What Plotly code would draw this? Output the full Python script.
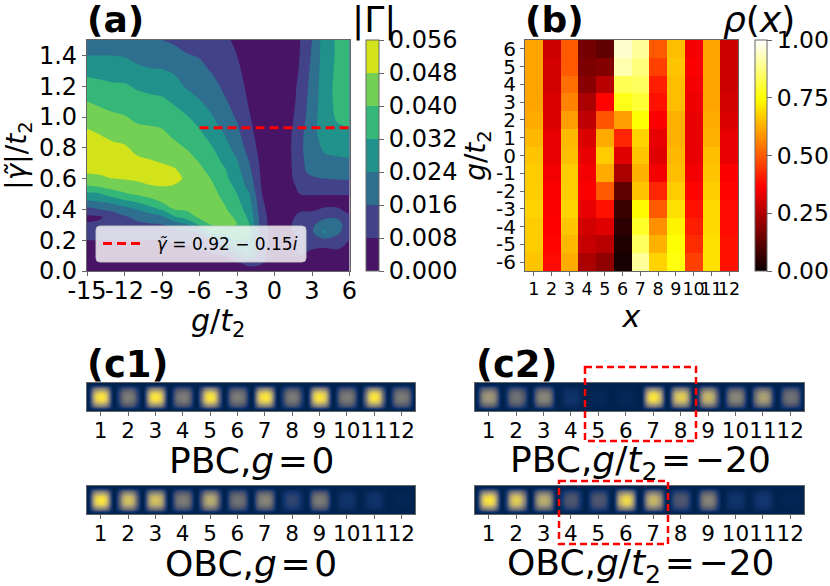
import numpy as np
import plotly.graph_objects as go

W, H = 830, 586
FONT = "DejaVu Sans"
FRAME = "#666666"

# ---------- panel (a): |Gamma| map, values in units of 1e-3 ----------
g_values = list(range(-15, 7))
gamma_values = [0, .05, .1, .15, .2, .25, .3, .35, .4, .45, .5, .55, .6, .65, .7, .8, .9, 1.0, 1.1, 1.2, 1.3, 1.4, 1.5]
col_m15 = [3, 3, 4, 5, 8, 10, 9, 6, 13, 23, 30, 39, 46, 49, 51, 52, 49, 44.5, 40, 35, 30, 24, 20]
col_m14 = [3, 3, 4, 5, 8, 10, 10, 7, 16, 24, 31, 41, 47, 49, 51, 51, 47.5, 43, 38.5, 34, 29.5, 24, 20]
col_m13 = [3, 3, 4, 6, 8, 11, 12, 11, 18, 26, 36, 43, 48, 50, 51, 49.5, 46, 41.5, 37, 33, 29, 24, 20]
col_m12 = [3, 3, 4, 6, 8, 11, 13, 15, 21, 30, 39, 44, 48.5, 50, 51, 49, 44.5, 40.5, 36, 33, 28, 23.5, 19]
col_m11 = [3, 3, 4, 6, 8, 12, 14, 18, 24, 33, 41, 45, 49.5, 50.5, 50, 46, 42, 38.5, 35, 31, 26, 21.5, 18]
col_m10 = [3, 3, 4, 6, 8, 12, 15, 20, 28, 37, 43, 47.5, 50, 50.5, 49, 45, 41.5, 38, 34, 30, 25, 20, 17]
col_m9 = [3, 3, 4, 6, 8, 12, 15.5, 22, 33, 40.5, 44, 48, 50, 50, 48, 44, 41, 37, 33.5, 29, 24.5, 20, 16]
col_m8 = [3, 4, 5, 7, 9, 13, 19, 31, 40, 42, 44, 47.5, 49.5, 49, 46.5, 42, 38, 35, 31, 27, 23, 18, 15]
col_m7 = [3, 4, 5, 7, 10, 14, 23, 36, 41, 43, 44, 45, 47, 45, 43.5, 39.5, 36, 32.5, 28, 23, 19.5, 16.5, 13]
col_m6 = [3, 4, 5.5, 8.5, 12.5, 17, 33, 41.5, 43, 44, 44, 44, 43.5, 42, 40, 36, 33, 29, 24.5, 21, 18, 15.5, 13]
col_m5 = [4, 5, 7, 11, 16, 33, 40.5, 42, 43, 43, 42, 41, 39.5, 37.5, 35.5, 32.5, 28, 24.5, 21.5, 18.5, 15.5, 13.5, 12]
col_m4 = [4, 6, 8, 16, 24, 34, 41, 42, 41, 39.5, 38, 36, 34, 33, 31, 27, 23.5, 20, 17, 14.5, 12, 10, 9]
col_m3 = [4, 7, 16, 24, 32, 37, 40, 39, 36, 34, 32, 30, 28, 26.5, 25, 21, 18, 15, 13, 11, 9.5, 8, 7]
col_m2 = [5, 10, 24, 28, 31, 33, 32, 30, 28, 26, 24, 21, 19.5, 17.5, 16, 12.5, 10, 8.5, 7, 6, 5, 4.5, 4]
col_m1 = [4, 8.5, 10, 11, 12, 12, 11.5, 11, 10, 9, 8, 7, 6.5, 6, 5.5, 4.5, 4, 3.5, 3, 3, 2.5, 2.5, 2]
col_p0 = [2, 3, 3.5, 4, 4, 4, 3.5, 3.5, 3, 2.5, 2, 2, 2, 2, 2.5, 2.5, 2.5, 2, 2, 1.5, 1.5, 1, 1]
col_p1 = [3, 8, 7, 6.5, 6, 6, 5.5, 5, 4, 3, 3, 3.5, 4, 4, 4.5, 5, 5, 4.5, 4, 3.5, 3, 2.5, 2]
col_p2 = [3, 7, 8, 8.5, 8.5, 10, 12, 10, 7, 5, 8, 10, 13, 14, 14, 14, 13, 11, 10, 9.5, 8.5, 8, 7.5]
col_p3 = [3, 4, 6, 8.5, 12, 15, 14, 11, 7, 5, 8.5, 12, 15, 18, 19, 21, 22, 21, 20, 19, 18, 17, 16]
col_p4 = [3, 4, 6, 8, 14, 25, 22, 14, 9, 5, 8.5, 12, 16, 20, 22, 25, 27, 28, 28, 28.5, 28, 28, 28]
col_p5 = [3, 4, 6, 8.5, 12, 18, 20, 15, 9, 5, 8.5, 12, 16.5, 20, 22, 26.5, 30, 33, 34, 34, 33.5, 33, 33]
col_p6 = [3, 4, 5, 7, 8, 10, 11, 9, 6, 5.5, 8.5, 12.5, 17, 20, 22.5, 27, 31, 34, 36, 37, 37, 37, 36]
gamma_columns = [col_m15, col_m14, col_m13, col_m12, col_m11, col_m10, col_m9, col_m8, col_m7, col_m6, col_m5,
                 col_m4, col_m3, col_m2, col_m1, col_p0, col_p1, col_p2, col_p3, col_p4, col_p5, col_p6]
gamma_bar_ticks = [0.0, 0.008, 0.016, 0.024, 0.032, 0.04, 0.048, 0.056]
a_x_ticks = [-15, -12, -9, -6, -3, 0, 3, 6]
a_y_ticks = [0.0, 0.2, 0.4, 0.6, 0.8, 1.0, 1.2, 1.4]
band_colors = ["#471466", "#414287", "#2e6e8e", "#21918c", "#35b779", "#74d055", "#d2e21b"]
line_g = [-6, 6]
line_gamma = [0.93, 0.93]

# ---------- panel (b): rho(x), rows run g = 6 ... -6 ----------
sites = list(range(1, 13))
b_g = [6, 5, 4, 3, 2, 1, 0, -1, -2, -3, -4, -5, -6]
rho_1 = [.61, .61, .61, .61, .62, .64, .66, .67, .67, .68, .67, .67, .66]
rho_2 = [.29, .30, .30, .31, .31, .33, .33, .35, .36, .36, .365, .37, .38]
rho_3 = [.50, .50, .53, .56, .60, .64, .65, .67, .67, .68, .66, .64, .62]
rho_4 = [.16, .17, .19, .24, .27, .31, .33, .35, .36, .33, .30, .28, .24]
rho_5 = [.13, .18, .26, .37, .49, .62, .67, .62, .50, .39, .32, .26, .20]
rho_6 = [.95, .92, .83, .77, .60, .42, .32, .24, .13, .07, .05, .03, .02]
rho_7 = [.90, .87, .84, .80, .75, .68, .66, .63, .66, .74, .79, .84, .90]
rho_8 = [.50, .46, .41, .39, .36, .33, .32, .35, .42, .50, .58, .63, .68]
rho_9 = [.65, .66, .65, .65, .63, .63, .64, .65, .67, .70, .73, .75, .76]
rho_10 = [.35, .36, .35, .34, .33, .33, .33, .35, .37, .39, .41, .43, .46]
rho_11 = [.61, .61, .61, .61, .62, .63, .65, .66, .67, .69, .69, .70, .70]
rho_12 = [.29, .29, .29, .30, .31, .33, .33, .36, .37, .38, .38, .39, .39]
rho_columns = [rho_1, rho_2, rho_3, rho_4, rho_5, rho_6, rho_7, rho_8, rho_9, rho_10, rho_11, rho_12]
rho_bar_ticks = [0, 0.25, 0.5, 0.75, 1.0]

# ---------- panels (c1), (c2): site densities ----------
c1_pbc = [1.0, .5, 1.0, .5, 1.0, .5, 1.0, .5, 1.0, .5, 1.0, .5]
c1_obc = [1.0, .85, .85, .5, .75, .45, .55, .2, .5, .1, .1, .02]
c2_pbc = [.65, .45, .55, .1, .03, .03, 1.0, .9, .8, .55, .7, .45]
c2_obc = [1.0, .9, .75, .3, .3, .95, .8, .3, .55, .1, .12, .02]
# lateral fall-off of one site's blob across its cell, edge to edge
blob_profile = [0, .2, .52, .78, .92, .98, 1.0, .98, .92, .78, .52, .2, 0]


def px_x(v):
    return v / W


def px_y(v):
    return 1 - v / H


def frame(**kw):
    base = dict(showgrid=False, zeroline=False, showline=True, mirror=True, linecolor=FRAME, linewidth=1.2,
                ticks="outside", ticklen=4, tickwidth=1.2, tickcolor=FRAME, tickangle=0,
                tickfont=dict(family=FONT, size=24, color="black"))
    base.update(kw)
    return base


def ttl(text, size, standoff):
    return dict(text=text, font=dict(family=FONT, size=size, color="black"), standoff=standoff)


stepped = []
for i, c in enumerate(band_colors):
    stepped += [[i / 7, c], [(i + 1) / 7, c]]

fig = go.Figure()

z_a = np.array(gamma_columns).T / 1000.0
fig.add_trace(go.Contour(
    x=g_values, y=gamma_values, z=z_a, xaxis="x", yaxis="y",
    colorscale=stepped, zmin=0, zmax=0.056, autocontour=False,
    contours=dict(start=0, end=0.056, size=0.008, coloring="fill", showlines=False),
    line=dict(width=0), hoverinfo="skip",
    colorbar=dict(x=px_x(366), xanchor="left", xpad=0, ypad=0, thickness=12.5, thicknessmode="pixels",
                  len=231 / H, lenmode="fraction", y=px_y(40), yanchor="top",
                  tickvals=gamma_bar_ticks, ticktext=[f"{v:.3f}" for v in gamma_bar_ticks],
                  ticks="outside", ticklen=5, tickcolor=FRAME, outlinecolor=FRAME, outlinewidth=1,
                  tickfont=dict(family=FONT, size=24, color="black")),
))
fig.add_trace(go.Scatter(
    x=line_g, y=line_gamma, xaxis="x", yaxis="y", mode="lines",
    line=dict(color="#ff0000", width=3, dash="9px,5px"),
    name="\u00a0\u00a0<i>\u03b3\u0303</i> = 0.92 \u2212 0.15<i>i</i>", showlegend=True,
))

fig.add_trace(go.Heatmap(
    x=sites, y=b_g, z=np.array(rho_columns).T, xaxis="x2", yaxis="y2",
    colorscale=[[0, "#0a0000"], [.365, "#ff0000"], [.746, "#ffff00"], [1, "#ffffff"]], zmin=0, zmax=1,
    colorbar=dict(x=px_x(755), xanchor="left", xpad=0, ypad=0, thickness=11.5, thicknessmode="pixels",
                  len=231 / H, lenmode="fraction", y=px_y(40), yanchor="top",
                  tickvals=rho_bar_ticks, ticktext=[f"{v:.2f}" for v in rho_bar_ticks],
                  ticks="outside", ticklen=5, tickcolor=FRAME, outlinecolor=FRAME, outlinewidth=1,
                  tickfont=dict(family=FONT, size=23.5, color="black")),
))

profile = np.array(blob_profile)
n = len(profile)
blob_x = np.array([s - 0.5 + (k + 0.5) / n for s in sites for k in range(n)])
blob_y = (np.arange(n) + 0.5) / n
for values, xa, ya in [(c1_pbc, "x3", "y3"), (c1_obc, "x4", "y4"), (c2_pbc, "x5", "y5"), (c2_obc, "x6", "y6")]:
    row = np.concatenate([v * profile for v in values])
    fig.add_trace(go.Heatmap(
        x=blob_x, y=blob_y, z=np.outer(profile, row), xaxis=xa, yaxis=ya,
        colorscale="Cividis", zmin=0, zmax=1, zsmooth="best", showscale=False, hoverinfo="skip",
    ))

rows_c = [(383, 411), (486, 514)]
cols_c = [(87, 415), (475, 804)]
layout_axes = dict(
    xaxis=frame(domain=[px_x(87), px_x(349.5)], range=[-15, 6], tickvals=a_x_ticks,
                ticktext=[str(v) for v in a_x_ticks], anchor="y", ticklabelstandoff=-6),
    yaxis=frame(domain=[px_y(271), px_y(40)], range=[0, 1.5], tickvals=a_y_ticks,
                ticktext=[f"{v:.1f}" for v in a_y_ticks], anchor="x",
                title=ttl("|<i>\u03b3\u0303</i>|/<i>t</i><sub>2</sub>", 28, 4)),
    xaxis2=frame(domain=[px_x(525), px_x(738)], range=[0.5, 12.5], tickvals=sites, ticktext=[str(s) for s in sites],
                 anchor="y2", tickfont=dict(family=FONT, size=17.5, color="black"), ticklabelstandoff=-2,
                 title=ttl("<i>x</i>", 30, 0)),
    yaxis2=frame(domain=[px_y(271), px_y(40)], range=[-6.5, 6.5], tickvals=b_g, ticktext=[str(v) for v in b_g],
                 anchor="x2", tickfont=dict(family=FONT, size=20, color="black"),
                 title=ttl("<i>g</i>/<i>t</i><sub>2</sub>", 28, 0)),
)
idx = 3
for col in cols_c:
    for row in rows_c:
        layout_axes[f"xaxis{idx}"] = frame(domain=[px_x(col[0]), px_x(col[1])], range=[0.5, 12.5], tickvals=sites,
                                           ticktext=[str(s) for s in sites], anchor=f"y{idx}", ticklabelstandoff=-4,
                                           tickfont=dict(family=FONT, size=21.5, color="black"))
        layout_axes[f"yaxis{idx}"] = dict(domain=[px_y(row[1]), px_y(row[0])], range=[0, 1], anchor=f"x{idx}",
                                          showticklabels=False, ticks="", showgrid=False, zeroline=False,
                                          showline=True, mirror=True, linecolor=FRAME, linewidth=1.2)
        idx += 1


def label(text, x, y, size, bold=False, anchor="left"):
    return dict(text=f"<b>{text}</b>" if bold else text, x=px_x(x), y=px_y(y), xref="paper", yref="paper",
                xanchor=anchor, yanchor="middle", showarrow=False,
                font=dict(family=FONT, size=size, color="black"))


THIN = "\u200a"
annotations = [
    label("(a)", 85, 20, 36, True), label("(b)", 523, 20, 36, True),
    label("(c1)", 85, 364, 37, True), label("(c2)", 474, 364, 37, True),
    label("|\u0393|", 350, 20, 36), label("<i>\u03c1</i>(<i>x</i>)", 721, 20, 36),
    label("<i>g</i>/<i>t</i><sub>2</sub>", 218, 322, 30, anchor="center"),
    label(f"PBC,<i>g</i>{THIN}={THIN}0", 251, 460, 36, anchor="center"),
    label(f"OBC,<i>g</i>{THIN}={THIN}0", 251, 563, 36, anchor="center"),
    label(f"PBC,<i>g</i>/<i>t</i><sub>2</sub>{THIN}={THIN}\u221220", 640, 462, 36, anchor="center"),
    label(f"OBC,<i>g</i>/<i>t</i><sub>2</sub>{THIN}={THIN}\u221220", 640, 565, 36, anchor="center"),
]


def dashed_box(x0, y0, x1, y1):
    return dict(type="rect", xref="paper", yref="paper", x0=px_x(x0), x1=px_x(x1), y0=px_y(y0), y1=px_y(y1),
                line=dict(color="#ff0000", width=2.5, dash="7px,4px"), layer="above")


lx0, lx1, ly0, ly1, r = px_x(96), px_x(306), px_y(226), px_y(262), 4
rx, ry = r / W, r / H
legend_path = (f"M {lx0+rx},{ly0} L {lx1-rx},{ly0} Q {lx1},{ly0} {lx1},{ly0-ry} L {lx1},{ly1+ry} "
               f"Q {lx1},{ly1} {lx1-rx},{ly1} L {lx0+rx},{ly1} Q {lx0},{ly1} {lx0},{ly1+ry} "
               f"L {lx0},{ly0-ry} Q {lx0},{ly0} {lx0+rx},{ly0} Z")
shapes = [
    dict(type="path", xref="paper", yref="paper", path=legend_path, fillcolor="rgba(255,255,255,0.8)",
         line=dict(color="rgba(200,200,200,0.9)", width=1), layer="above"),
    dashed_box(585, 367, 696, 441),
    dashed_box(559, 481, 668, 544),
]

fig.update_layout(
    width=W, height=H, autosize=False, margin=dict(l=0, r=0, t=0, b=0, autoexpand=False),
    paper_bgcolor="white", plot_bgcolor="white", font=dict(family=FONT, color="black"),
    legend=dict(x=px_x(98), y=px_y(244), xanchor="left", yanchor="middle", bgcolor="rgba(0,0,0,0)", borderwidth=0,
                itemwidth=38, font=dict(family=FONT, size=17, color="black")),
    annotations=annotations, shapes=shapes, **layout_axes,
)

fig.write_html("out.html", config=dict(displayModeBar=False),
               post_script="document.body.style.margin='0';document.body.style.overflow='hidden';")
